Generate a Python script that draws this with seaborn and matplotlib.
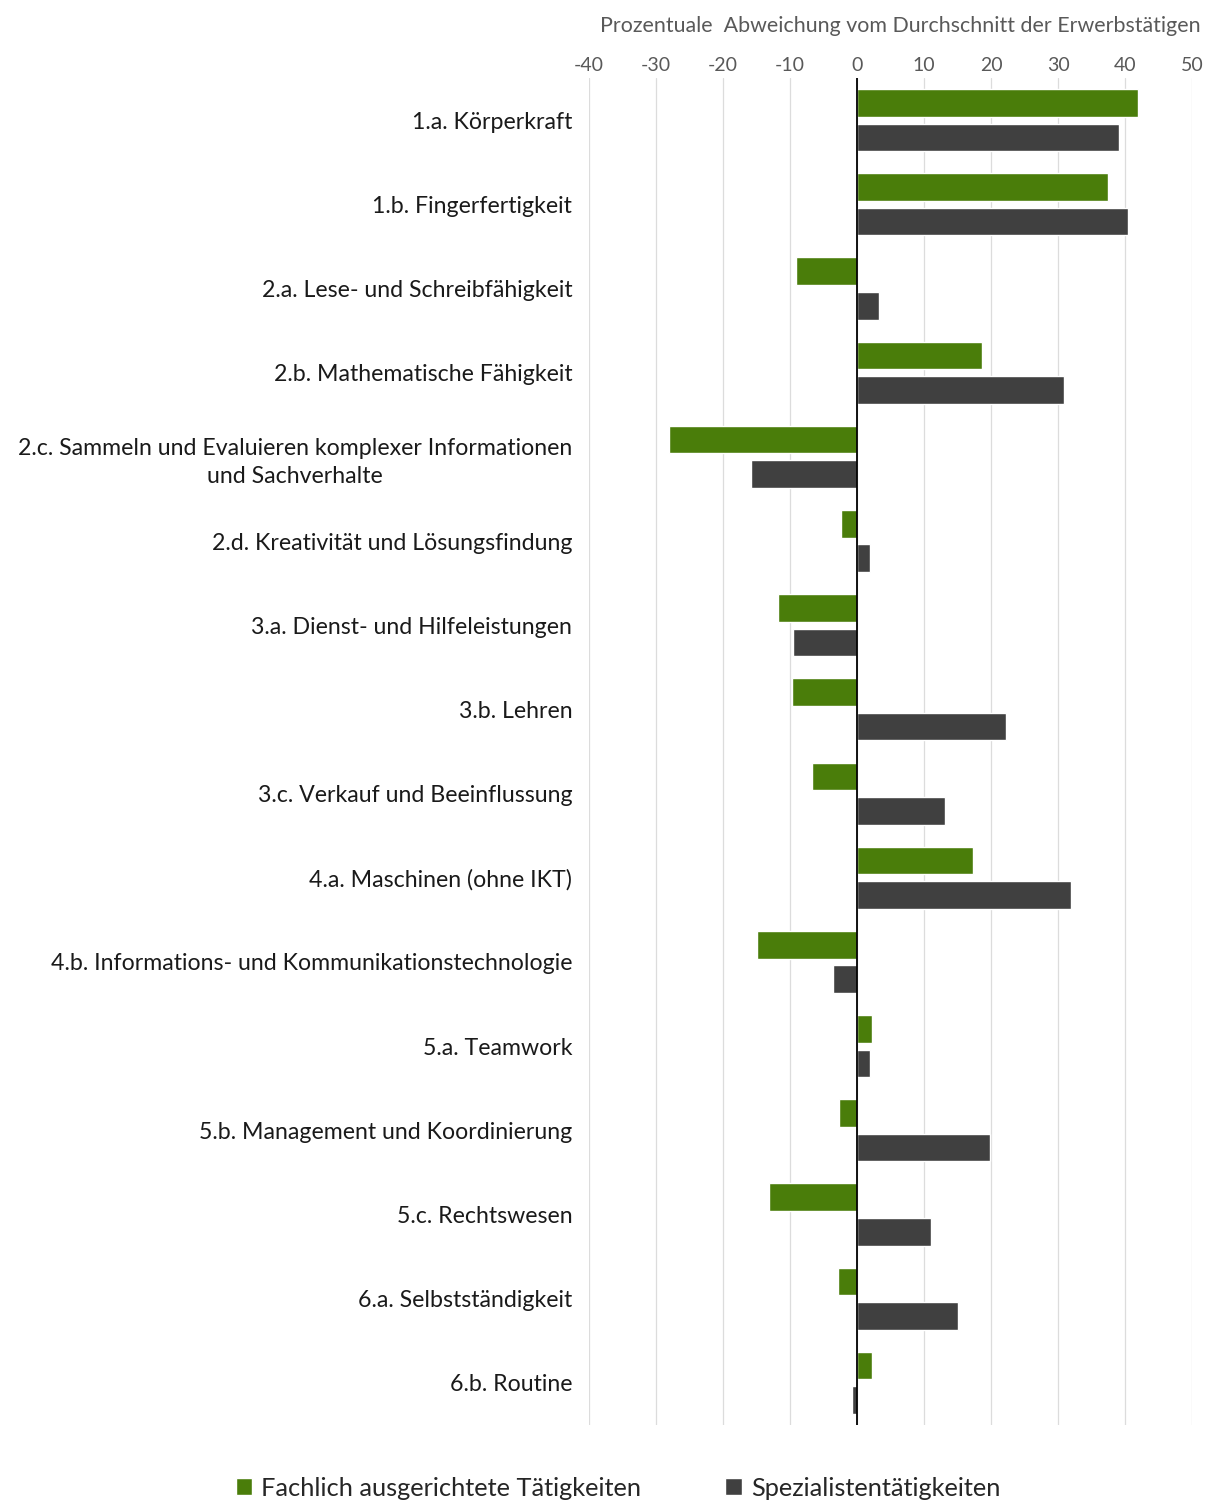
import pandas as pd
import seaborn as sns
import matplotlib.pyplot as plt
from matplotlib.patches import Patch

categories = [
    "1.a. Körperkraft",
    "1.b. Fingerfertigkeit",
    "2.a. Lese- und Schreibfähigkeit",
    "2.b. Mathematische Fähigkeit",
    "2.c. Sammeln und Evaluieren komplexer Informationen\nund Sachverhalte",
    "2.d. Kreativität und Lösungsfindung",
    "3.a. Dienst- und Hilfeleistungen",
    "3.b. Lehren",
    "3.c. Verkauf und Beeinflussung",
    "4.a. Maschinen (ohne IKT)",
    "4.b. Informations- und Kommunikationstechnologie",
    "5.a. Teamwork",
    "5.b. Management und Koordinierung",
    "5.c. Rechtswesen",
    "6.a. Selbstständigkeit",
    "6.b. Routine",
]
fachlich = [41.9, 37.5, -9.1, 18.7, -28.1, -2.4, -11.8, -9.7, -6.7, 17.3, -14.9, 2.2, -2.7, -13.1, -2.8, 2.2]
spezialist = [39.1, 40.4, 3.3, 30.9, -15.8, 1.9, -9.6, 22.2, 13.1, 31.9, -3.6, 1.9, 19.9, 11.0, 15.1, -0.7]
series = ["Fachlich ausgerichtete Tätigkeiten", "Spezialistentätigkeiten"]
colors = ["#4a7d0a", "#404040"]
xticks = [-40, -30, -20, -10, 0, 10, 20, 30, 40, 50]

df = pd.DataFrame({
    "Kategorie": categories * 2,
    "Wert": fachlich + spezialist,
    "Gruppe": [series[0]] * len(categories) + [series[1]] * len(categories),
})

sns.set_style("white")
plt.rcParams['font.family'] = ['Lato', 'DejaVu Sans']
plt.rcParams['axes.unicode_minus'] = False

fig = plt.figure(figsize=(12.15, 15.01), dpi=100)
ax = fig.add_axes([589 / 1215, 1 - 1425 / 1501, (1192 - 589) / 1215, (1425 - 78) / 1501])

sns.barplot(data=df, x="Wert", y="Kategorie", hue="Gruppe", orient="h",
            palette=colors, width=0.82, gap=0.2, ax=ax, legend=False,
            saturation=1, zorder=3)

ax.set_xlim(-40, 50)
ax.set_ylim(15.5, -0.5)
ax.set_xticks(xticks)
ax.xaxis.tick_top()
ax.xaxis.set_label_position("top")
ax.tick_params(axis="x", length=0, pad=3, labelsize=14, labelcolor="#595959")
ax.tick_params(axis="y", length=0, pad=12, labelsize=16.7, labelcolor="#1a1a1a")
for lbl in ax.get_yticklabels():
    lbl.set_multialignment("center")
    lbl.set_linespacing(1.45)
ax.set_xlabel("Prozentuale  Abweichung vom Durchschnitt der Erwerbstätigen",
              fontsize=15.4, color="#595959")
ax.xaxis.set_label_coords(0.516, 1.034)
ax.set_ylabel("")
ax.grid(axis="x", color="#dcdcdc", linewidth=0.9, zorder=0)
ax.axvline(0, color="black", linewidth=1.3, zorder=4)
for s in ax.spines.values():
    s.set_visible(False)

handles = [Patch(facecolor=c, label=l) for c, l in zip(colors, series)]
fig.legend(handles=handles, loc="center", bbox_to_anchor=(618 / 1215, 1 - 1488 / 1501),
           ncol=2, frameon=False, fontsize=18.3, handlelength=0.65, handleheight=0.65,
           handletextpad=0.35, columnspacing=3.3)

fig.savefig("out.png", dpi=100)
